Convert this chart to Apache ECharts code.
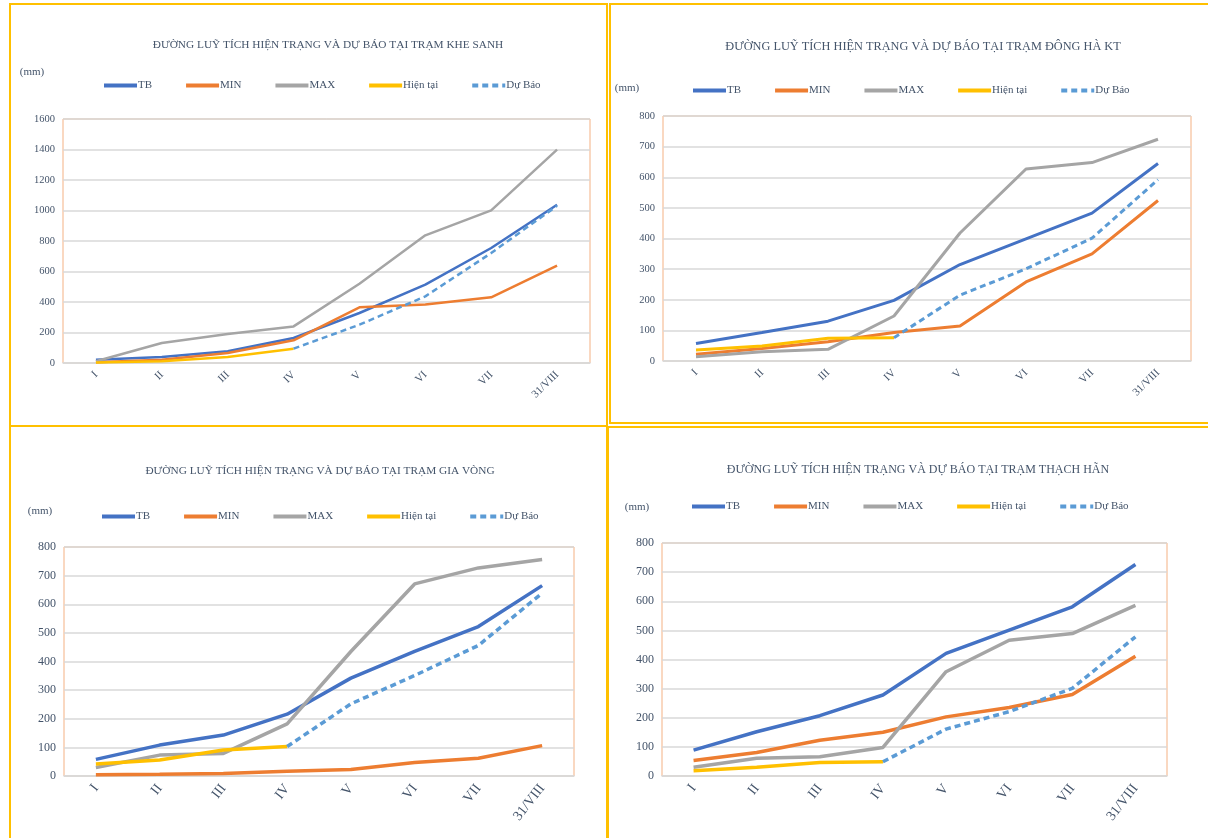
<!DOCTYPE html>
<html>
<head>
<meta charset="utf-8">
<script src="https://cdn.jsdelivr.net/npm/echarts@6/dist/echarts.min.js"></script>
<style>
  html, body { margin: 0; padding: 0; background: #fff; overflow: hidden; }
  #wrap { position: relative; width: 1208px; height: 838px; }
  .box { position: absolute; box-sizing: border-box; border: 2px solid #FFC000; }
  #chart { position: absolute; left: 0; top: 0; width: 1208px; height: 838px; }
</style>
</head>
<body>
<div id="wrap">
  <div class="box" style="left:9px;top:3px;width:599px;height:424px"></div>
  <div class="box" style="left:609px;top:3px;width:610px;height:421px"></div>
  <div class="box" style="left:9px;top:425px;width:599px;height:420px"></div>
  <div class="box" style="left:607px;top:426px;width:610px;height:420px"></div>
  <div id="chart"></div>
</div>
<script>
// truc hoanh chung
const months = ['I', 'II', 'III', 'IV', 'V', 'VI', 'VII', '31/VIII'];
const seriesNames = ['TB', 'MIN', 'MAX', 'Hiện tại', 'Dự Báo'];
const colors = ['#4472C4', '#ED7D31', '#A5A5A5', '#FFC000', '#5B9BD5'];

// Khe Sanh
const khesanhTB = [22, 39, 77, 164, 328, 514, 754, 1038];
const khesanhMin = [5, 22, 66, 149, 365, 383, 431, 638];
const khesanhMax = [11, 131, 190, 240, 520, 837, 1001, 1399];
const khesanhNow = [4, 11, 39, 94];
const khesanhFc = [null, null, null, 94, 251, 437, 721, 1031];

// Dong Ha KT
const donghaTB = [57, 93, 130, 198, 315, 399, 483, 645];
const donghaMin = [22, 41, 63, 93, 114, 258, 350, 524];
const donghaMax = [14, 30, 38, 147, 418, 627, 648, 724];
const donghaNow = [36, 49, 74, 76];
const donghaFc = [null, null, null, 76, 215, 301, 401, 592];

// Gia Vong
const giavongTB = [58, 108, 143, 216, 342, 435, 522, 665];
const giavongMin = [4, 6, 9, 17, 23, 47, 62, 106];
const giavongMax = [30, 73, 79, 182, 435, 671, 727, 756];
const giavongNow = [42, 56, 91, 103];
const giavongFc = [null, null, null, 103, 252, 351, 456, 639];

// Thach Han
const thachhanTB = [89, 152, 207, 278, 421, 501, 581, 726];
const thachhanMin = [53, 81, 123, 150, 203, 235, 280, 411];
const thachhanMax = [30, 61, 66, 98, 358, 466, 489, 586];
const thachhanNow = [18, 30, 46, 49];
const thachhanFc = [null, null, null, 49, 161, 221, 301, 478];

const titles = [
  'ĐƯỜNG LUỸ TÍCH HIỆN TRẠNG VÀ DỰ BÁO TẠI TRẠM KHE SANH',
  'ĐƯỜNG LUỸ TÍCH HIỆN TRẠNG VÀ DỰ BÁO TẠI TRẠM ĐÔNG HÀ KT',
  'ĐƯỜNG LUỸ TÍCH HIỆN TRẠNG VÀ DỰ BÁO TẠI TRẠM GIA VÒNG',
  'ĐƯỜNG LUỸ TÍCH HIỆN TRẠNG VÀ DỰ BÁO TẠI TRẠM THẠCH HÃN'
];
const yMax = [1600, 800, 800, 800];
const yStep = [200, 100, 100, 100];

const stationData = [
  [khesanhTB, khesanhMin, khesanhMax, khesanhNow, khesanhFc],
  [donghaTB, donghaMin, donghaMax, donghaNow, donghaFc],
  [giavongTB, giavongMin, giavongMax, giavongNow, giavongFc],
  [thachhanTB, thachhanMin, thachhanMax, thachhanNow, thachhanFc]
];

// vi tri tung o bieu do
const panels = [
  { grid: { left: 63, top: 119, width: 527, height: 244 }, tx: 323, ty: 43, lx: 97, ly: 82, mx: 32, my: 72, lw: 2.5, xf: 11, yf: 10.5, rot: 45, tf: 11.3 },
  { grid: { left: 663, top: 116, width: 528, height: 245 }, tx: 918, ty: 44, lx: 686, ly: 87, mx: 627, my: 88, lw: 3, xf: 11, yf: 10.5, rot: 45, tf: 12.3 },
  { grid: { left: 64, top: 547, width: 510, height: 229 }, tx: 315, ty: 469, lx: 95, ly: 513, mx: 40, my: 511, lw: 3.5, xf: 14, yf: 12, rot: 52, tf: 11.3 },
  { grid: { left: 662, top: 543, width: 505, height: 233 }, tx: 913, ty: 467, lx: 685, ly: 503, mx: 637, my: 507, lw: 3.5, xf: 14, yf: 12, rot: 52, tf: 12 }
];

const font = 'Liberation Serif';
const txtColor = '#44546A';

const chart = echarts.init(document.getElementById('chart'));

const option = {
  animation: false,
  title: [],
  legend: [],
  grid: [],
  xAxis: [],
  yAxis: [],
  graphic: [],
  series: []
};

panels.forEach((p, i) => {
  option.title.push({
    text: titles[i],
    left: p.tx,
    top: p.ty - 8,
    textAlign: 'center',
    textStyle: { fontFamily: font, fontSize: p.tf, fontWeight: 'normal', color: txtColor }
  });
  option.graphic.push({
    type: 'text',
    x: p.mx,
    y: p.my,
    style: { text: '(mm)', fontFamily: font, fontSize: 11, fill: txtColor, textAlign: 'center', textVerticalAlign: 'middle' }
  });
  option.legend.push({
    data: seriesNames,
    left: p.lx,
    top: p.ly - 7,
    itemWidth: 33,
    itemHeight: 14,
    itemGap: 32,
    itemStyle: { opacity: 0 },
    lineStyle: { width: 4 },
    textStyle: { fontFamily: font, fontSize: 11, color: txtColor, padding: [0, 0, 0, -4] }
  });
  option.grid.push(Object.assign({ show: true, borderColor: '#F4B183', borderWidth: 1 }, p.grid));
  option.xAxis.push({
    type: 'category',
    gridIndex: i,
    data: months,
    boundaryGap: true,
    axisLine: { show: true, lineStyle: { color: '#D9D9D9', width: 1.5 } },
    axisTick: { show: false },
    axisLabel: { rotate: p.rot, fontFamily: font, fontSize: p.xf, color: txtColor, margin: 10, interval: 0 }
  });
  option.yAxis.push({
    type: 'value',
    gridIndex: i,
    min: 0,
    max: yMax[i],
    interval: yStep[i],
    axisLine: { show: false },
    axisTick: { show: false },
    splitLine: { lineStyle: { color: '#D9D9D9', width: 1.5 } },
    axisLabel: { fontFamily: font, fontSize: p.yf, color: txtColor, margin: 8, formatter: v => String(v) }
  });
  stationData[i].forEach((vals, k) => {
    option.series.push({
      name: seriesNames[k],
      type: 'line',
      xAxisIndex: i,
      yAxisIndex: i,
      data: vals,
      symbol: 'none',
      connectNulls: false,
      lineStyle: { color: colors[k], width: p.lw, type: k === 4 ? [6, 4] : 'solid' },
      itemStyle: { color: colors[k] }
    });
  });
});

chart.setOption(option);
</script>
</body>
</html>
